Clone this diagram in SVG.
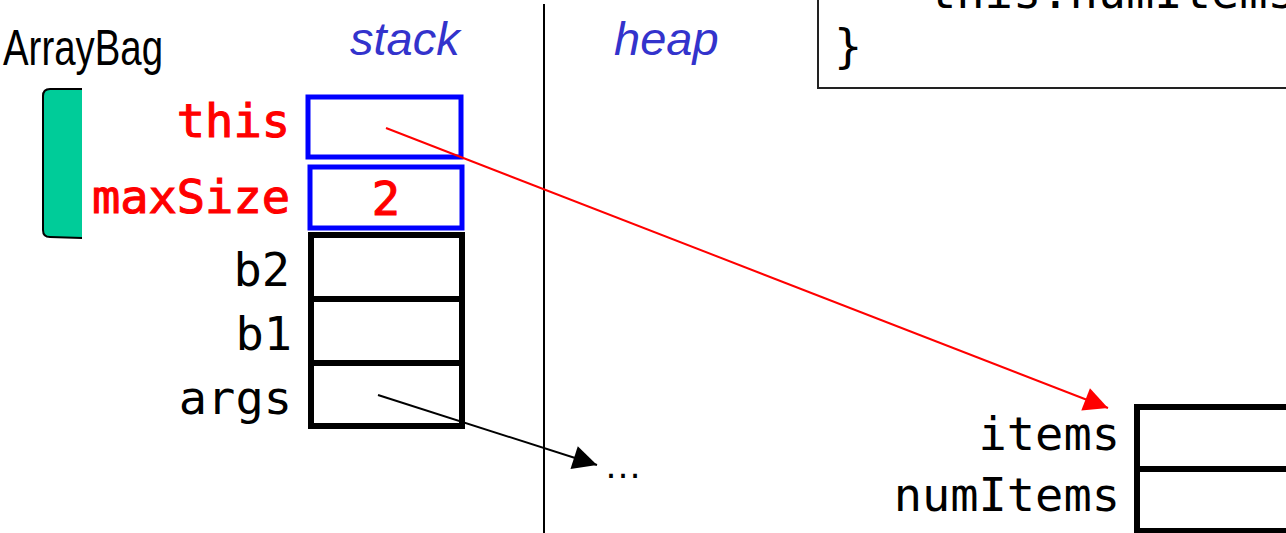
<svg xmlns="http://www.w3.org/2000/svg" width="1286" height="533" viewBox="0 0 1286 533">
<style>
.mono{font-family:"DejaVu Sans Mono",monospace;font-size:47px}
.lbl{fill:#000;text-anchor:end}
.red{fill:#FF0000;stroke:#FF0000;stroke-width:1.1}
.sect{font-family:"Liberation Sans",Arial,sans-serif;font-style:italic;font-size:47px;fill:#3333CC}
.blk{fill:#fff;stroke:#000;stroke-width:6}
.blu{fill:#fff;stroke:#0000FF;stroke-width:5}
</style>
<defs>
<marker id="ar" viewBox="0 0 10 10" refX="10" refY="5" markerWidth="30" markerHeight="24" markerUnits="userSpaceOnUse" orient="auto"><path d="M0,0 L10,5 L0,10 z" fill="#FF0000"/></marker>
<marker id="ab" viewBox="0 0 10 10" refX="10" refY="5" markerWidth="30" markerHeight="24" markerUnits="userSpaceOnUse" orient="auto"><path d="M0,0 L10,5 L0,10 z" fill="#000"/></marker>
</defs>
<rect width="1286" height="533" fill="#fff"/>
<g id="code">
<rect x="818" y="-10" width="480" height="98" fill="#fff" stroke="#222" stroke-width="2"/>
<text class="mono" x="928" y="8" fill="#000">this.numItems</text>
<text class="mono" x="834" y="62" fill="#000">}</text>
</g>
<g id="titles">
<text x="3" y="65" font-family="'Liberation Sans',Arial,sans-serif" font-size="50" textLength="160" lengthAdjust="spacingAndGlyphs" fill="#000">ArrayBag</text>
<text class="sect" x="350" y="55">stack</text>
<text class="sect" x="614" y="55">heap</text>
<line x1="544" y1="4" x2="544" y2="533" stroke="#000" stroke-width="2"/>
</g>
<g id="frame">
<path d="M82,89 L50,89 Q43,89 43,96 L43,230 Q43,237 50,237 L82,238 Z" fill="#00CC99" stroke="none"/>
<path d="M82,89 L50,89 Q43,89 43,96 L43,230 Q43,237 50,237 L82,238" fill="none" stroke="#000" stroke-width="2"/>
</g>
<g id="stack">
<rect class="blk" x="311" y="235" width="151" height="191"/>
<line x1="311" y1="299" x2="462" y2="299" stroke="#000" stroke-width="6"/>
<line x1="311" y1="363" x2="462" y2="363" stroke="#000" stroke-width="6"/>
<rect class="blu" x="308" y="97" width="153" height="60"/>
<rect class="blu" x="310" y="167" width="152" height="61"/>
<text class="mono red" x="290" y="137" text-anchor="end">this</text>
<text class="mono red" x="290" y="213" text-anchor="end">maxSize</text>
<text class="mono red" x="386" y="215" text-anchor="middle">2</text>
<text class="mono lbl" x="290" y="286">b2</text>
<text class="mono lbl" x="292" y="350">b1</text>
<text class="mono lbl" x="292" y="414">args</text>
</g>
<g id="heapobj">
<rect class="blk" x="1137" y="407" width="160" height="124"/>
<line x1="1137" y1="469" x2="1297" y2="469" stroke="#000" stroke-width="6"/>
<text class="mono lbl" x="1120" y="450">items</text>
<text class="mono lbl" x="1120" y="511">numItems</text>
</g>
<g id="ellipsis">
<text x="604" y="478" font-family="'Liberation Sans',Arial,sans-serif" font-size="38" fill="#000">…</text>
</g>
<g id="connectors">
<line x1="386" y1="128" x2="1108" y2="408" stroke="#FF0000" stroke-width="2" marker-end="url(#ar)"/>
<line x1="378" y1="395" x2="597" y2="465" stroke="#000" stroke-width="2" marker-end="url(#ab)"/>
</g>
</svg>
